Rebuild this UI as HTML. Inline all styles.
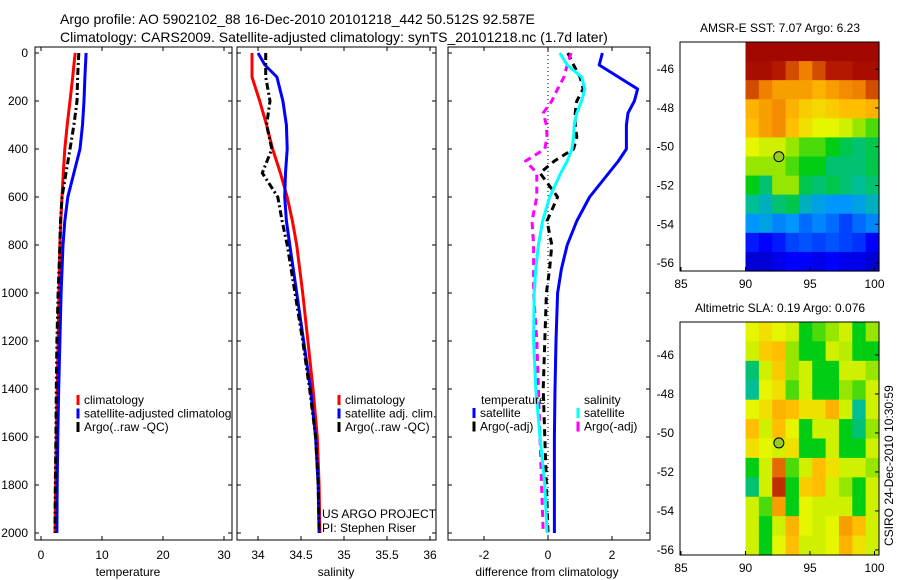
<!DOCTYPE html>
<html><head><meta charset="utf-8"><style>
body{margin:0;background:#fff;}
svg{display:block;font-family:"Liberation Sans",sans-serif;}
</style></head><body>
<svg id="c" width="900" height="580" xmlns="http://www.w3.org/2000/svg">
<text x="60" y="24" font-size="14">Argo profile: AO 5902102_88 16-Dec-2010 20101218_442 50.512S 92.587E</text>
<text x="60" y="42" font-size="14">Climatology: CARS2009. Satellite-adjusted climatology: synTS_20101218.nc (1.7d later)</text>
</svg>
<script>
// ---------- data ----------
const depthsA=[0,50,100,200,300,400,500,600,700,800,1000,1200,1400,1600,1800,2000];
const tempClim=[5.6,5.4,5.2,4.75,4.3,3.9,3.65,3.45,3.25,3.1,2.95,2.8,2.65,2.5,2.4,2.3];
const tempSat=[7.4,7.3,7.2,7.05,6.8,6.4,5.4,4.4,3.9,3.6,3.3,3.1,2.9,2.75,2.65,2.6];
const tempArgo=[6.2,6.1,6.0,5.9,5.4,4.75,4.1,3.45,3.2,3.1,2.8,2.6,2.5,2.45,2.35,2.3];
const salClim=[33.93,33.93,33.93,34.02,34.1,34.17,34.26,34.34,34.4,34.45,34.52,34.58,34.64,34.69,34.71,34.72];
const salSat=[34.0,34.08,34.22,34.29,34.33,34.34,34.32,34.31,34.33,34.37,34.45,34.53,34.61,34.67,34.7,34.71];
const salArgo=[34.09,34.09,34.09,34.14,34.1,34.16,34.05,34.23,34.28,34.34,34.43,34.52,34.6,34.67,34.7,34.71];
const depthsB=[0,50,100,150,200,250,300,350,400,450,500,600,700,800,900,1000,1200,1400,1600,1800,2000];
const diffSatT=[1.7,1.6,2.2,2.8,2.7,2.5,2.45,2.45,2.45,2.2,1.9,1.3,0.9,0.6,0.42,0.3,0.25,0.22,0.2,0.2,0.2];
const diffSatS=[0.37,0.6,1.05,1.15,1.05,0.9,0.82,0.8,0.75,0.6,0.4,0.05,-0.17,-0.3,-0.38,-0.43,-0.45,-0.38,-0.25,-0.1,-0.03];
const diffArgoT=[0.62,0.8,1.0,1.1,0.9,0.85,0.85,0.9,0.8,0.2,-0.25,0.3,-0.03,0.12,0.05,-0.05,-0.1,-0.15,-0.1,-0.05,0.0];
const diffArgoS=[0.72,0.6,0.5,0.3,0.12,-0.15,-0.05,-0.03,-0.1,-0.7,-0.35,-0.35,-0.5,-0.45,-0.45,-0.45,-0.35,-0.3,-0.25,-0.2,-0.15];
const depthTicks=[0,200,400,600,800,1000,1200,1400,1600,1800,2000];
const tempTicks=[0,10,20,30];
const salTicks=[34,34.5,35,35.5,36];
const diffTicks=[-2,0,2];
const lonTicks=[85,90,95,100];
const sstLatTicks=[-46,-48,-50,-52,-54,-56];
const slaLatTicks=[-46,-48,-50,-52,-54,-56];
const sstGrid=[
[0.97,0.97,0.97,0.97,0.97,0.97,0.97,0.97,0.97,0.97],
[0.95,0.95,0.9,0.85,0.8,0.85,0.9,0.9,0.95,0.95],
[0.85,0.8,0.75,0.75,0.75,0.72,0.75,0.78,0.8,0.85],
[0.72,0.75,0.78,0.72,0.68,0.66,0.68,0.7,0.7,0.72],
[0.7,0.75,0.78,0.7,0.65,0.62,0.62,0.6,0.55,0.5],
[0.62,0.6,0.6,0.55,0.5,0.5,0.45,0.42,0.4,0.42],
[0.55,0.55,0.55,0.5,0.45,0.45,0.4,0.4,0.4,0.42],
[0.45,0.4,0.55,0.55,0.42,0.4,0.42,0.4,0.38,0.4],
[0.38,0.35,0.4,0.42,0.35,0.32,0.3,0.3,0.32,0.35],
[0.3,0.32,0.28,0.3,0.25,0.28,0.25,0.2,0.25,0.28],
[0.15,0.12,0.15,0.2,0.22,0.2,0.22,0.2,0.18,0.12],
[0.08,0.08,0.1,0.12,0.12,0.1,0.12,0.1,0.1,0.08]];
const slaGrid=[
[0.62,0.65,0.62,0.6,0.45,0.5,0.55,0.6,0.45,0.55],
[0.6,0.68,0.7,0.55,0.45,0.45,0.6,0.58,0.45,0.45],
[0.4,0.6,0.68,0.55,0.6,0.45,0.45,0.6,0.6,0.55],
[0.38,0.62,0.65,0.5,0.6,0.45,0.45,0.55,0.5,0.6],
[0.62,0.65,0.72,0.7,0.65,0.65,0.72,0.6,0.38,0.6],
[0.7,0.6,0.7,0.62,0.45,0.6,0.6,0.45,0.4,0.55],
[0.65,0.62,0.6,0.65,0.45,0.45,0.6,0.45,0.45,0.6],
[0.45,0.6,0.82,0.5,0.6,0.7,0.65,0.6,0.6,0.55],
[0.4,0.6,0.88,0.45,0.68,0.7,0.6,0.55,0.45,0.6],
[0.6,0.5,0.75,0.45,0.62,0.6,0.6,0.6,0.45,0.6],
[0.6,0.45,0.6,0.72,0.62,0.6,0.62,0.75,0.7,0.6],
[0.6,0.45,0.62,0.7,0.6,0.6,0.62,0.72,0.65,0.6]];
const floatLon=92.587, floatLat=-50.512;

// ---------- helpers ----------
const svg=document.getElementById('c');
const NS='http://www.w3.org/2000/svg';
function mk(tag,at,parent){const e=document.createElementNS(NS,tag);for(const k in at)e.setAttribute(k,at[k]);(parent||svg).appendChild(e);return e;}
const yD=d=>53+d*0.24;
function lin(d0,d1,p0,p1){return v=>p0+(v-d0)*(p1-p0)/(d1-d0);}
const P1={x0:35,x1:232,sx:lin(0,10,41,102)};
const P2={x0:237,x1:436,sx:lin(34,35,258,344)};
const P3={x0:448,x1:650,sx:lin(0,2,548,612)};
const TOP=47,BOT=540;

function frame(p,name,ticks,xlabel,cx,showY){
  const g=mk('g',{});
  
  
  const r=mk('rect',{x:p.x0,y:TOP,width:p.x1-p.x0,height:BOT-TOP,fill:'none',stroke:'#000','stroke-width':1},g);
  
  
  ticks.forEach(t=>{const x=p.sx(t);
    mk('line',{x1:x,x2:x,y1:BOT,y2:BOT-4,stroke:'#000'},g);
    mk('line',{x1:x,x2:x,y1:TOP,y2:TOP+4,stroke:'#000'},g);
    const tl=mk('text',{x:x,y:BOT+19,'font-size':12,'text-anchor':'middle'},g);tl.textContent=t;
    
    });
  depthTicks.forEach(d=>{const y=yD(d);
    mk('line',{x1:p.x0,x2:p.x0+4,y1:y,y2:y,stroke:'#000'},g);
    mk('line',{x1:p.x1,x2:p.x1-4,y1:y,y2:y,stroke:'#000'},g);
    if(showY){const tl=mk('text',{x:28,y:y+4,'font-size':12,'text-anchor':'end'},g);tl.textContent=d;
      
      }});
  const xl=mk('text',{x:cx,y:576,'font-size':12,'text-anchor':'middle'},g);xl.textContent=xlabel;
  
  
}
function line(p,vals,depths,color,name,dash){
  const pts=vals.map((v,i)=>p.sx(v).toFixed(1)+','+yD(depths[i]).toFixed(1)).join(' ');
  const e=mk('polyline',{points:pts,fill:'none',stroke:color,'stroke-width':3,'stroke-linejoin':'round'});
  if(dash)e.setAttribute('stroke-dasharray',dash);
  
  
}
function legend(x,y,items){
  items.forEach((it,i)=>{const yy=y+i*13.5;
    const s=mk('line',{x1:x,x2:x,y1:yy-9,y2:yy+1,stroke:it[1],'stroke-width':3});
    
    
    const t=mk('text',{x:x+6,y:yy,'font-size':12});t.textContent=it[0];
    
    });
}
function txt(x,y,s,name,extra){const t=mk('text',Object.assign({x:x,y:y,'font-size':12},extra||{}));t.textContent=s;
  
  return t;}

// panel 1
frame(P1,'temperature-panel',tempTicks,'temperature',128,true);
line(P1,tempClim,depthsA,'#f00','temp-climatology-line');
line(P1,tempSat,depthsA,'#00f','temp-satellite-line');
line(P1,tempArgo,depthsA,'#000','temp-argo-line','7,3,2,3');
const cp=mk('clipPath',{id:'cp1'});mk('rect',{x:35,y:0,width:197,height:580},cp);
const lg1=mk('g',{'clip-path':'url(#cp1)'});


[['climatology','#f00'],['satellite-adjusted climatology','#00f'],['Argo(..raw -QC)','#000']].forEach((it,i)=>{const yy=404+i*13.5;
  const s=mk('line',{x1:78,x2:78,y1:yy-9,y2:yy+1,stroke:it[1],'stroke-width':3},lg1);
  
  
  const t=mk('text',{x:84,y:yy,'font-size':12},lg1);t.textContent=it[0];
  
  });

// panel 2
frame(P2,'salinity-panel',salTicks,'salinity',336,false);
line(P2,salClim,depthsA,'#f00','sal-climatology-line');
line(P2,salSat,depthsA,'#00f','sal-satellite-line');
line(P2,salArgo,depthsA,'#000','sal-argo-line','7,3,2,3');
legend(339,404,[['climatology','#f00'],['satellite adj. clim.','#00f'],['Argo(..raw -QC)','#000']]);
txt(322,518,'US ARGO PROJECT','project-credit');
txt(322,532,'PI: Stephen Riser','pi-credit');

// panel 3
frame(P3,'difference-panel',diffTicks,'difference from climatology',547,false);
const z=mk('line',{x1:P3.sx(0),x2:P3.sx(0),y1:TOP,y2:BOT,stroke:'#000','stroke-dasharray':'1,3'});


line(P3,diffSatT,depthsB,'#00f','diff-temp-satellite-line');
line(P3,diffArgoT,depthsB,'#000','diff-temp-argo-line','7,5');
line(P3,diffArgoS,depthsB,'#f0f','diff-sal-argo-line','7,5');
line(P3,diffSatS,depthsB,'#0ff','diff-sal-satellite-line');
txt(481,404,'temperature','legend-heading-temperature');
txt(584,404,'salinity','legend-heading-salinity');
legend(474,417,[['satellite','#00f'],['Argo(-adj)','#000']]);
legend(578,417,[['satellite','#0ff'],['Argo(-adj)','#f0f']]);

// maps
const stops=[[0,[0,0,128]],[0.12,[0,0,255]],[0.3,[0,150,255]],[0.38,[0,190,150]],[0.45,[0,205,20]],[0.55,[150,230,0]],[0.62,[230,245,0]],[0.7,[255,190,0]],[0.8,[240,128,0]],[0.9,[180,25,0]],[1,[155,0,0]]];
function cmap(v){for(let i=1;i<stops.length;i++){if(v<=stops[i][0]){const a=stops[i-1],b=stops[i],t=(v-a[0])/(b[0]-a[0]);
  return 'rgb('+a[1].map((c,k)=>Math.round(c+(b[1][k]-c)*t)).join(',')+')';}}return 'rgb(155,0,0)';}
function map(name,title,y0,y1,latTop,latBot,grid,latTicks){
  const sx=lin(90,100,745.5,874.5), sy=lin(latTop,latBot,y0,y1);
  const g=mk('g',{});
  
  
  const rows=grid.length, cols=grid[0].length;
  const lonMax=90+(879-745.5)/12.9;
  grid.forEach((row,r)=>row.forEach((v,c)=>{
    const lo0=90+(lonMax-90)*c/cols, lo1=90+(lonMax-90)*(c+1)/cols;
    const la0=latTop+(latBot-latTop)*r/rows, la1=latTop+(latBot-latTop)*(r+1)/rows;
    const cell=mk('rect',{x:sx(lo0),y:sy(la0),width:sx(lo1)-sx(lo0)+0.6,height:sy(la1)-sy(la0)+0.6,fill:cmap(v)},g);
    
    }));
  mk('rect',{x:680,y:y0,width:199,height:y1-y0,fill:'none',stroke:'#000'},g);
  lonTicks.forEach(l=>{const x=sx(l);mk('line',{x1:x,x2:x,y1:y1,y2:y1-4,stroke:'#000'},g);
    const t=mk('text',{x:x,y:y1+17,'font-size':12,'text-anchor':'middle'},g);t.textContent=l;
    
    });
  latTicks.forEach(l=>{const y=sy(l);mk('line',{x1:875,x2:879,y1:y,y2:y,stroke:'#000'},g);
    const t=mk('text',{x:674,y:y+4,'font-size':12,'text-anchor':'end'},g);t.textContent=l;
    
    });
  const m=mk('circle',{cx:sx(floatLon),cy:sy(floatLat),r:5,fill:'#9c2',stroke:'#000','stroke-width':1},g);
  
  
  const tt=mk('text',{x:780,y:y0-10,'font-size':12,'text-anchor':'middle'},g);tt.textContent=title;
  
  
}
map('sst-map','AMSR-E SST: 7.07 Argo: 6.23',42,271,-44.6,-56.41,sstGrid,sstLatTicks);
map('sla-map','Altimetric SLA: 0.19 Argo: 0.076',322,555,-44.31,-56.26,slaGrid,slaLatTicks);
txt(893,546,'CSIRO 24-Dec-2010 10:30:59','timestamp',{transform:'rotate(-90 893 546)'});
</script>
</body></html>
